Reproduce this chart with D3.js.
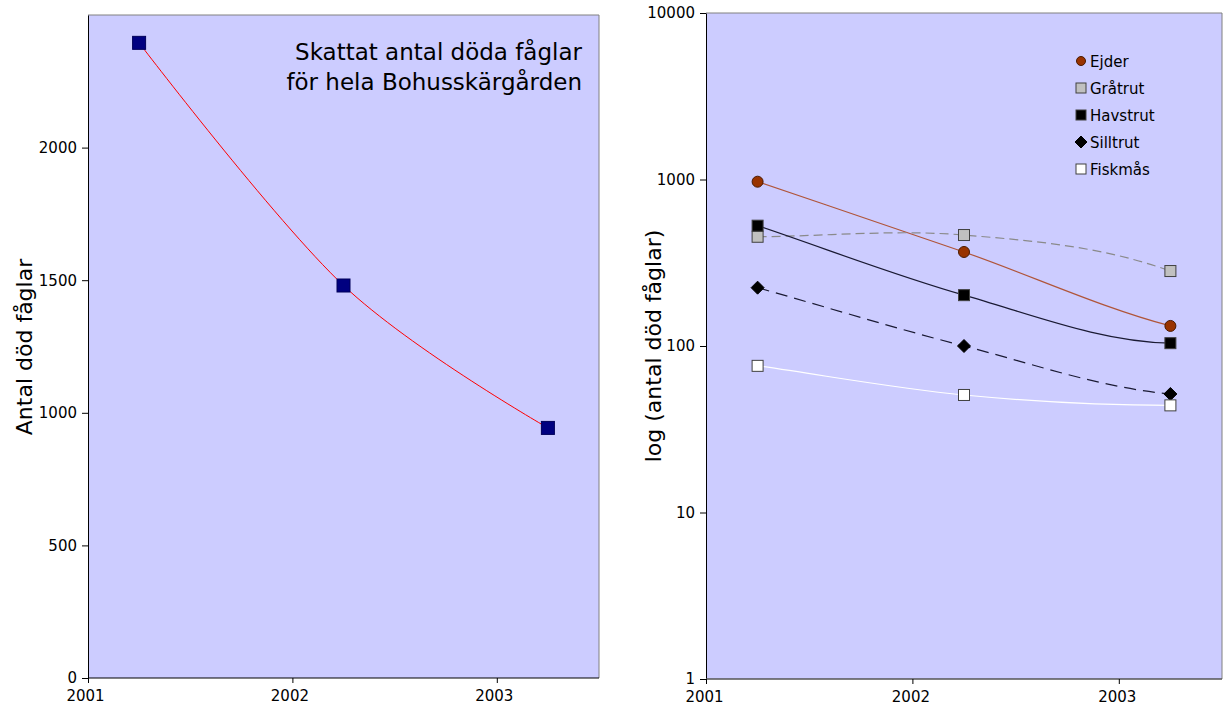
<!DOCTYPE html>
<html>
<head>
<meta charset="utf-8">
<script src="https://cdn.jsdelivr.net/npm/d3@7"></script>
<style>
  html, body { margin: 0; padding: 0; background: #fff; }
  svg { display: block; }
  text { font-family: "DejaVu Sans", Verdana, sans-serif; fill: #000; }
</style>
</head>
<body>
<svg id="chart" width="1224" height="709"></svg>
<script>
// ---- data ----
const years = [2001.25, 2002.25, 2003.25];
const xTicks = [2001, 2002, 2003];

// total estimated dead birds
const totalDead = [2395, 1480, 943];
const leftYTicks = [0, 500, 1000, 1500, 2000];

// per species (log scale)
const speciesNames = ["Ejder", "Gråtrut", "Havstrut", "Silltrut", "Fiskmås"];
const ejder    = [970, 367, 132];
const gratrut  = [453, 464, 282];
const havstrut = [528, 202, 104];
const silltrut = [224, 100, 51.5];
const fiskmas  = [76, 50.8, 44];
const rightYTicks = [1, 10, 100, 1000, 10000];

const svg = d3.select("#chart");
const plotBg = "#ccccff";

function smoothLine(x, y) {
  return d3.line().x(d => x(d[0])).y(d => y(d[1])).curve(d3.curveCardinal.tension(0));
}

// Piecewise cubic through screen points: chord tangent at the start,
// averaged chords inside, and an end tangent that eases toward level.
function easedSpline(x, y, pts) {
  const p = pts.map(d => [x(d[0]), y(d[1])]);
  const n = p.length;
  const c = [];
  for (let i = 0; i < n - 1; i++) c.push((p[i + 1][1] - p[i][1]) / (p[i + 1][0] - p[i][0]));
  const m = new Array(n);
  m[0] = c[0];
  for (let i = 1; i < n - 1; i++) m[i] = (c[i - 1] + c[i]) / 2;
  let end = 2 * c[n - 2] - (4 / 3) * (n > 2 ? c[n - 3] : c[n - 2]);
  if (Math.sign(end) !== Math.sign(c[n - 2])) end = 0;
  m[n - 1] = end;
  const path = d3.path();
  path.moveTo(p[0][0], p[0][1]);
  for (let i = 0; i < n - 1; i++) {
    const h = p[i + 1][0] - p[i][0];
    path.bezierCurveTo(p[i][0] + h / 3, p[i][1] + m[i] * h / 3,
                       p[i + 1][0] - h / 3, p[i + 1][1] - m[i + 1] * h / 3,
                       p[i + 1][0], p[i + 1][1]);
  }
  return path.toString();
}

function styleAxis(a) {
  a.attr("font-family", null).attr("font-size", null);
  a.select(".domain").attr("stroke", "#000");
  a.selectAll(".tick line").attr("stroke", "#000");
  a.selectAll("text").attr("fill", "#111")
    .style("font-size", "15px").style("font-family", "'DejaVu Sans', Verdana, sans-serif");
}

// ---------- left panel ----------
(function () {
  const L = 88, R = 599, T = 15, B = 678;
  const x = d3.scaleLinear().domain([2001, 2003.5]).range([L, R]);
  const y = d3.scaleLinear().domain([0, 2500]).range([B, T]);
  const g = svg.append("g");

  g.append("rect").attr("x", L).attr("y", T).attr("width", R - L).attr("height", B - T)
    .attr("fill", plotBg);
  g.append("path").attr("d", `M${L},${T}H${R}V${B}`).attr("fill", "none").attr("stroke", "#808080");

  const yAxis = g.append("g").attr("transform", `translate(${L},0)`)
    .call(d3.axisLeft(y).tickValues(leftYTicks).tickFormat(d3.format("d")).tickSize(6).tickPadding(5).tickSizeOuter(0));
  const xAxis = g.append("g").attr("transform", `translate(0,${B})`)
    .call(d3.axisBottom(x).tickValues(xTicks).tickFormat(d3.format("d")).tickSize(5).tickPadding(7).tickSizeOuter(0));
  styleAxis(yAxis);
  styleAxis(xAxis);
  xAxis.select(".domain").attr("d", `M${L},0H${R}`);
  xAxis.selectAll(".tick text").attr("dx", "-3");

  const pts = years.map((yr, i) => [yr, totalDead[i]]);
  g.append("path").attr("d", smoothLine(x, y)(pts))
    .attr("fill", "none").attr("stroke", "#ff0000").attr("stroke-width", 1);

  g.selectAll("rect.pt").data(pts).enter().append("rect").attr("class", "pt")
    .attr("x", d => x(d[0]) - 6.5).attr("y", d => y(d[1]) - 6.5)
    .attr("width", 13).attr("height", 13)
    .attr("fill", "#000080").attr("stroke", "#00005a").attr("stroke-width", 1);

  g.append("text").attr("text-anchor", "end").attr("x", 582).attr("y", 60)
    .style("font-size", "23px").text("Skattat antal döda fåglar");
  g.append("text").attr("text-anchor", "end").attr("x", 582).attr("y", 90)
    .style("font-size", "23px").text("för hela Bohusskärgården");

  g.append("text").attr("transform", "translate(32,347) rotate(-90)")
    .attr("text-anchor", "middle").style("font-size", "22px").text("Antal död fåglar");
})();

// ---------- right panel ----------
(function () {
  const L = 706, R = 1222, T = 13, B = 679;
  const x = d3.scaleLinear().domain([2001, 2003.5]).range([L, R]);
  const y = d3.scaleLog().domain([1, 10000]).range([B, T]);
  const g = svg.append("g");

  g.append("rect").attr("x", L).attr("y", T).attr("width", R - L).attr("height", B - T)
    .attr("fill", plotBg);
  g.append("path").attr("d", `M${L},${T}H${R}V${B}`).attr("fill", "none").attr("stroke", "#808080");

  const yAxis = g.append("g").attr("transform", `translate(${L},0)`)
    .call(d3.axisLeft(y).tickValues(rightYTicks).tickFormat(d3.format("d")).tickSize(6).tickPadding(5).tickSizeOuter(0));
  const xAxis = g.append("g").attr("transform", `translate(0,${B})`)
    .call(d3.axisBottom(x).tickValues(xTicks).tickFormat(d3.format("d")).tickSize(5).tickPadding(7).tickSizeOuter(0));
  styleAxis(yAxis);
  styleAxis(xAxis);
  xAxis.select(".domain").attr("d", `M${L},0H${R}`).attr("stroke", "#555").attr("stroke-width", 1.5);
  xAxis.selectAll(".tick text").attr("dx", "-2");

  const series = [
    { name: speciesNames[0], values: ejder,    line: "#b0553a", dash: null,  marker: "circle",  fill: "#993300", stroke: "#4a1a00" },
    { name: speciesNames[1], values: gratrut,  line: "#8a8a8a", dash: "9,5", marker: "square",  fill: "#c0c0c0", stroke: "#404040" },
    { name: speciesNames[2], values: havstrut, line: "#1a1a33", dash: null,  marker: "square",  fill: "#000000", stroke: "#404040" },
    { name: speciesNames[3], values: silltrut, line: "#1a1a33", dash: "12,7", marker: "diamond", fill: "#000000", stroke: "#000000" },
    { name: speciesNames[4], values: fiskmas,  line: "#ffffff", dash: null,  marker: "square",  fill: "#ffffff", stroke: "#404040" }
  ];

  series.forEach(s => {
    const pts = years.map((yr, i) => [yr, s.values[i]]);
    g.append("path").attr("d", easedSpline(x, y, pts)).attr("fill", "none")
      .attr("stroke", s.line).attr("stroke-width", 1.2)
      .attr("stroke-dasharray", s.dash);
  });

  function drawMarker(sel, type, cx, cy, size, fill, stroke) {
    if (type === "circle") {
      sel.append("circle").attr("cx", cx).attr("cy", cy).attr("r", size / 2)
        .attr("fill", fill).attr("stroke", stroke).attr("stroke-width", 1);
    } else if (type === "square") {
      sel.append("rect").attr("x", cx - size / 2).attr("y", cy - size / 2)
        .attr("width", size).attr("height", size)
        .attr("fill", fill).attr("stroke", stroke).attr("stroke-width", 1);
    } else {
      const r = size / 2 + 1;
      sel.append("path").attr("d", `M${cx},${cy - r}L${cx + r},${cy}L${cx},${cy + r}L${cx - r},${cy}Z`)
        .attr("fill", fill).attr("stroke", stroke).attr("stroke-width", 1);
    }
  }

  series.forEach(s => {
    years.forEach((yr, i) => {
      drawMarker(g, s.marker, x(yr), y(s.values[i]), 11, s.fill, s.stroke);
    });
  });

  // legend
  const lg = g.append("g");
  series.forEach((s, i) => {
    const cy = 61 + i * 27;
    drawMarker(lg, s.marker, 1081, cy, s.marker === "circle" ? 9 : 10, s.fill, s.stroke);
    lg.append("text").attr("x", 1090).attr("y", cy + 5.5).style("font-size", "15px").text(s.name);
  });

  g.append("text").attr("transform", "translate(661,346) rotate(-90)")
    .attr("text-anchor", "middle").style("font-size", "22px").text("log (antal död fåglar)");
})();
</script>
</body>
</html>
